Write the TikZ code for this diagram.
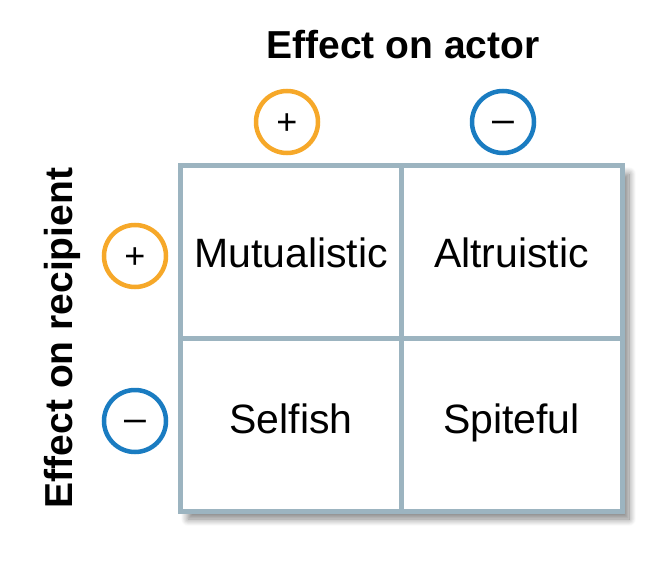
\documentclass[tikz,border=0pt]{standalone}
\usepackage{fontspec}
\setmainfont{Liberation Sans}
\usetikzlibrary{shadows.blur}
\definecolor{gridc}{HTML}{9CB4C0}
\definecolor{plusc}{HTML}{F6A829}
\definecolor{minusc}{HTML}{1A7CC1}
\begin{document}
\begin{tikzpicture}[x=1pt,y=-1pt,
  title/.style={font=\fontsize{39}{44}\selectfont\bfseries},
  cell/.style={font=\fontsize{41}{46}\selectfont,anchor=base},
  sign/.style={circle,draw,line width=4.5pt,minimum size=62pt,inner sep=0pt,text height=24pt,text depth=0pt,font=\fontsize{36}{40}\selectfont},
  possign/.style={sign,draw=plusc},
  negsign/.style={sign,draw=minusc},
  gridline/.style={draw=gridc,line width=5pt}]
\useasboundingbox (0,0) rectangle (666,578);
\path[fill=white,blur shadow={shadow xshift=7pt,shadow yshift=-8pt,shadow blur steps=12,shadow blur radius=7pt,shadow opacity=50}] (181,166) rectangle (622,511);
\node[draw=none,minimum width=220pt,minimum height=172pt] (mut) at (291,252) {};
\node[draw=none,minimum width=221pt,minimum height=172pt] (alt) at (511.5,252) {};
\node[draw=none,minimum width=220pt,minimum height=173pt] (sel) at (291,424.5) {};
\node[draw=none,minimum width=221pt,minimum height=173pt] (spi) at (511.5,424.5) {};
\draw[gridline] (mut.north west) rectangle (spi.south east);
\draw[gridline] (mut.north east) -- (sel.south east);
\draw[gridline] (mut.south west) -- (alt.south east);
\node[cell] (tmut) at ([yshift=-15pt]mut.center) {Mutualistic};
\node[cell] (talt) at ([yshift=-15pt]alt.center) {Altruistic};
\node[cell] (tsel) at ([yshift=-8.5pt]sel.center) {Selfish};
\node[cell] (tspi) at ([yshift=-8.5pt]spi.center) {Spiteful};
\node[title] (actor) at (403,45) {Effect on actor};
\node[title,rotate=90] (recip) at (62,338) {Effect on recipient};
\node[possign] (ap) at (287,122) {+};
\node[negsign] (am) at (503,122) {\scalebox{1.25}[1]{−}};
\node[possign] (rp) at (135,256) {+};
\node[negsign] (rm) at (135,421) {\scalebox{1.25}[1]{−}};
\end{tikzpicture}
\end{document}
